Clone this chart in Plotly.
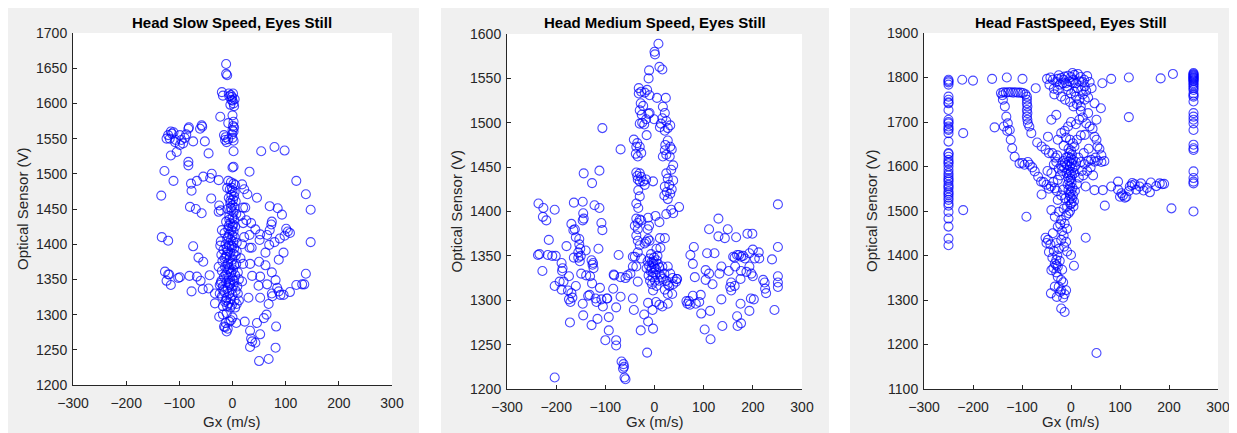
import plotly.graph_objects as go

# ---------------- data (Gx [m/s], Optical Sensor [V]) ----------------
slow_points = [
    (-12,1656),(-12,1642),(-10,1640),
    (-20,1616),(-18,1611),(-7,1614),(-3,1612),(-1,1609),(-2,1605),(0,1604),(2,1600),(-4,1598),(3,1596),(-6,1610),(1,1614),(4,1606),
    (-23,1581),(0,1583),(2,1574),(-8,1572),(1,1568),(0,1562),(2,1560),(-1,1556),(3,1566),
    (-16,1555),(-14,1548),(-11,1545),(-8,1549),(-13,1552),(2,1547),(0,1551),
    (2,1532),(2,1510),(0,1509),
    (-121,1555),(-118,1550),(-114,1557),(-111,1559),(-124,1550),(-107,1548),(-99,1555),(-96,1548),(-90,1551),(-87,1556),
    (-93,1543),(-99,1541),(-105,1531),(-116,1526),(-83,1564),(-82,1566),(-74,1546),(-61,1564),(-58,1569),(-57,1567),
    (-52,1546),(-45,1529),(-83,1517),(-83,1512),(-108,1545),(-116,1560),
    (-128,1504),(-111,1490),(-78,1486),(-77,1476),(-67,1490),(-55,1496),(-39,1500),(-42,1494),(-26,1491),(-134,1469),
    (-40,1465),(-80,1453),(-69,1450),(-58,1444),(-25,1455),(-26,1446),(-22,1448),
    (-133,1410),(-121,1405),(-74,1397),(-64,1381),(-55,1375),(-20,1420),(-22,1404),(-23,1398),
    (-127,1361),(-121,1357),(-124,1348),(-116,1342),(-102,1352),(-99,1353),(-81,1355),(-67,1354),(-43,1356),(-77,1333),
    (-56,1336),(-45,1337),(-33,1330),(-33,1316),(-119,1357),(-60,1348),(-26,1368),(-24,1342),(-24,1330),
    (54,1532),(79,1538),(98,1533),(32,1503),(120,1490),(28,1471),(46,1466),(138,1471),(70,1454),(85,1451),(93,1442),
    (147,1449),(24,1452),(26,1434),(35,1430),(74,1432),(73,1428),(43,1421),(52,1414),(32,1413),(70,1420),(101,1422),
    (104,1418),(108,1416),(98,1412),(89,1408),(65,1413),(79,1403),(147,1403),(51,1406),(69,1399),(32,1395),(36,1395),
    (62,1388),(96,1388),(87,1378),(50,1375),(33,1372),(62,1370),(74,1360),(37,1355),(52,1354),(81,1349),(138,1358),
    (120,1342),(131,1343),(135,1343),(49,1341),(65,1343),(84,1338),(87,1333),(90,1328),(96,1328),(108,1332),(74,1330),
    (75,1326),(30,1324),(52,1324),(68,1315),(64,1300),(59,1295),(23,1290),(46,1288),(82,1283),(33,1277),(52,1272),
    (35,1266),(37,1262),(43,1260),(33,1254),(81,1253),(50,1234),(68,1237),(18,1485),(22,1478),(20,1452),(15,1440),
    (20,1430),(22,1410),(18,1400),(15,1380),(20,1372),(12,1350),(18,1347),(10,1330),(12,1320),(8,1315),
    (-25,1297),(-11,1302),(-16,1283),(-11,1276),(-6,1290),(0,1296),(7,1288),(5,1310),(-14,1282),(-9,1280),(-3,1292),
    (-18,1300),(-13,1288),
    (-8,1490),(-3,1488),(2,1486),(5,1484),(-10,1480),(-5,1478),(0,1476),(4,1474),(-2,1470),(3,1468),(-7,1466),(1,1463),
    (6,1461),(-4,1458),(0,1455),(4,1452),(-9,1450),(-2,1448),(2,1445),(7,1443),(-6,1440),(0,1438),(3,1435),(-12,1432),
    (-4,1430),(1,1428),(5,1425),(-8,1422),(-2,1420),(2,1418),(-15,1416),(-6,1414),(0,1412),(4,1410),(-10,1408),(-3,1406),
    (1,1404),(8,1402),(-13,1400),(-6,1398),(-1,1396),(3,1394),(-17,1392),(-9,1390),(-4,1388),(2,1386),(6,1384),(-12,1382),
    (-5,1380),(0,1378),(-19,1376),(-8,1374),(-2,1372),(3,1370),(-14,1368),(-6,1366),(1,1364),(-20,1362),(-10,1360),
    (-3,1358),(5,1356),(-16,1354),(-7,1352),(0,1350),(-21,1348),(-12,1346),(-4,1344),(2,1342),(-18,1340),(-9,1338),
    (-1,1336),(6,1334),(-15,1332),(-6,1330),(0,1328),(-20,1326),(-11,1324),(-3,1322),(4,1320),(-14,1318),(-7,1316),
    (-1,1314),(-10,1312),(-4,1310),(-17,1335),(-13,1357),(-11,1385),(-8,1410),(-6,1435),(-4,1462),(-1,1480),(-9,1372),
    (-7,1345),(-12,1320),(-2,1398),(0,1425),(-3,1452),(-5,1342),(-8,1364),(-15,1380),(-11,1394),(-7,1426),(-2,1360),
    (3,1348),(-18,1312),(7,1372),(8,1390),(10,1360),(9,1340),(-22,1345),(-21,1385),
]

medium_points = [
    (8,1589),(0,1580),(1,1577),(-11,1559),(-12,1550),(10,1563),(16,1560),
    (-32,1539),(-32,1533),(-27,1535),(-15,1537),(-10,1531),(5,1528),(23,1528),(-20,1534),
    (-28,1522),(-23,1519),(-30,1514),(-26,1509),(-12,1510),(-10,1511),(-17,1504),(-25,1500),(-30,1499),(-21,1498),
    (17,1518),(21,1511),(16,1505),(24,1502),(27,1494),(32,1497),(21,1491),(11,1495),(-1,1504),(13,1499),
    (-42,1481),(-37,1473),(-34,1462),(-30,1473),(-27,1466),(-38,1465),(-16,1486),(-35,1477),
    (27,1480),(32,1473),(21,1469),(24,1464),(17,1462),(31,1462),(22,1475),(35,1470),
    (-37,1444),(-30,1443),(-34,1436),(-27,1439),(-30,1434),(-23,1434),(-17,1436),(-20,1430),(-3,1434),(-35,1440),
    (38,1452),(34,1447),(24,1443),(27,1437),(38,1435),(30,1430),(21,1428),(25,1422),(32,1420),(27,1414),(35,1425),(20,1418),
    (-33,1424),(-30,1417),(-37,1409),(-33,1404),
    (-37,1392),(-30,1391),(-34,1387),(-40,1384),(-34,1380),(-27,1390),(-13,1393),(-11,1384),(-14,1380),
    (2,1395),(10,1388),(24,1397),(34,1402),(50,1405),(38,1398),
    (-37,1373),(-34,1367),(-30,1362),(-20,1364),(-17,1366),(-13,1369),(-10,1367),(11,1370),(12,1359),(4,1358),
    (-34,1354),(-40,1349),(-27,1347),(-37,1338),(-34,1321),
    (-10,1347),(-6,1343),(-3,1341),(0,1337),(4,1345),(-11,1339),(-8,1333),(-3,1331),(3,1335),(7,1341),(-4,1326),
    (11,1329),(14,1326),(9,1322),(17,1324),(1,1322),(-5,1318),(4,1316),(-3,1311),(24,1322),(-14,1344),(-7,1352),
    (-1,1348),(6,1350),(-12,1328),(-16,1336),(2,1329),(-6,1336),(-2,1344),(10,1337),(-9,1322),(16,1338),(20,1330),
    (46,1324),(44,1321),(38,1318),(27,1318),(21,1312),(27,1307),(36,1307),(30,1316),
    (-13,1297),(-4,1289),(16,1293),(27,1296),(-21,1284),(-13,1276),(-3,1268),(-28,1266),(-15,1241),(3,1298),(10,1295),
    (-67,1231),(-63,1228),(-64,1223),(-61,1213),(-59,1211),(-62,1225),
    (-78,1255),(-78,1249),(-100,1255),(-93,1266),(-93,1281),(-105,1293),(-108,1301),(-97,1302),(-78,1292),(-69,1304),
    (-84,1313),(-82,1328),(-83,1329),(-69,1326),(-73,1351),(-59,1325),(-55,1328),(-49,1330),(-44,1338),(-44,1349),
    (-44,1302),(-42,1289),(-69,1470),(-106,1494),
    (-236,1409),(-237,1351),(-234,1352),(-228,1333),(-227,1394),(-226,1404),(-220,1390),(-217,1351),(-215,1368),
    (-208,1350),(-201,1350),(-203,1402),(-203,1213),(-203,1316),(-189,1342),(-187,1336),(-188,1333),(-193,1321),
    (-185,1321),(-189,1312),(-179,1361),(-176,1311),(-174,1301),(-171,1298),(-167,1303),(-169,1308),(-172,1275),
    (-174,1327),(-169,1386),(-164,1410),(-165,1379),(-162,1380),(-160,1371),(-164,1348),(-160,1316),(-155,1348),
    (-153,1369),(-153,1363),(-151,1358),(-155,1354),(-150,1350),(-152,1344),(-146,1411),(-145,1398),(-144,1392),
    (-146,1390),(-149,1330),(-144,1443),(-146,1296),(-145,1283),(-140,1356),(-139,1328),(-135,1305),(-132,1306),
    (-131,1327),(-128,1345),(-125,1342),(-127,1319),(-126,1340),(-124,1336),(-128,1272),(-127,1432),(-122,1407),
    (-120,1302),(-118,1298),(-116,1279),(-114,1358),(-112,1404),(-112,1446),(-111,1314),(-108,1387),(-106,1379),
    (-96,1302),
    (73,1351),(80,1360),(78,1341),(82,1326),(65,1299),(70,1299),(67,1296),(72,1295),(78,1305),(84,1296),(91,1298),
    (94,1306),(95,1285),(102,1267),(104,1334),(107,1353),(104,1323),(111,1330),(113,1288),(114,1256),(111,1380),
    (118,1318),(122,1353),(130,1392),(130,1372),(136,1338),(132,1330),(136,1301),(138,1271),(143,1370),(149,1380),
    (151,1333),(156,1320),(154,1315),(156,1311),(160,1349),(163,1316),(163,1348),(164,1338),(166,1371),(168,1282),
    (169,1271),(168,1351),(172,1351),(176,1349),(180,1350),(184,1347),(175,1324),(176,1333),(175,1296),(176,1274),
    (187,1332),(189,1375),(193,1353),(199,1375),(193,1338),(197,1330),(200,1327),(193,1288),(196,1302),(202,1301),
    (200,1357),(204,1347),(212,1354),(213,1347),(221,1323),(224,1320),(225,1313),(227,1308),(239,1346),(244,1289),
    (251,1408),(251,1360),(251,1327),(251,1320),(251,1315),
    (21,1370),(27,1338),(32,1330),(37,1325),(45,1324),
]

fast_left_column_y = [1795,1792,1789,1784,1757,1750,1744,1742,1727,1705,1700,1697,1690,1685,1682,1675,1656,1630,1628,
                      1622,1615,1610,1607,1600,1592,1585,1580,1574,1570,1566,1559,1555,1551,1544,1540,1536,1530,1525,
                      1517,1512,1498,1483,1465,1438,1423]
fast_right_column_y = [1810,1808,1806,1804,1802,1800,1799,1797,1795,1793,1791,1787,1784,1780,1776,1772,1764,1760,1757,
                       1746,1720,1712,1705,1697,1682,1649,1641,1637,1589,1574,1566,1562,1499]
fast_left_column_x = -250
fast_right_column_x = 250

fast_points = [
    (-222,1795),(-200,1793),(-161,1797),(-131,1800),(-99,1797),(-72,1776),(-49,1797),(-44,1784),(64,1787),(82,1797),
    (118,1800),(183,1798),(208,1808),(118,1711),(205,1506),(-220,1502),(-220,1675),(-91,1487),(52,1181),(30,1440),
    (-37,1795),(-27,1797),(-20,1799),(-13,1802),(-6,1804),(0,1801),(7,1806),(14,1808),(20,1801),(27,1795),(17,1791),
    (10,1787),(4,1788),(-3,1791),(-10,1787),(-17,1787),(-23,1784),(-30,1790),(28,1780),(21,1772),(14,1776),(7,1768),
    (0,1764),(10,1757),(17,1750),(24,1762),(31,1770),(35,1755),(28,1750),(-6,1772),(-20,1757),(-12,1750),(-27,1772),
    (-34,1762),(38,1790),(42,1776),(-15,1795),(5,1795),(-8,1780),(12,1740),(20,1735),(-2,1745),(24,1790),(33,1803),
    (-25,1805),(-42,1800),(3,1810),(-35,1775),
    (-143,1765),(-138,1767),(-133,1766),(-128,1767),(-123,1767),(-118,1766),(-113,1767),(-108,1766),(-103,1766),
    (-98,1765),(-93,1762),(-140,1760),
    (-90,1757),(-90,1750),(-90,1742),(-89,1735),(-90,1727),(-89,1720),(-90,1712),(-89,1705),(-88,1697),(-85,1690),
    (-81,1675),(-69,1654),(-60,1645),(-52,1638),(-45,1630),
    (-139,1750),(-135,1735),(-132,1712),(-129,1697),(-125,1682),(-123,1660),(-120,1641),(-115,1622),(-105,1607),
    (-95,1604),(-84,1604),(-74,1589),(-67,1577),(-61,1566),(-50,1559),(-41,1555),(-33,1551),(-156,1688),(-137,1690),
    (-130,1680),(-99,1608),(-88,1610),(-79,1598),(-56,1565),(-45,1550),(-60,1537),(-29,1545),
    (-47,1667),(-30,1716),(-40,1705),(-27,1660),(-20,1675),(-13,1680),(-6,1690),(4,1652),(7,1645),(-2,1660),(12,1660),
    (20,1670),(-10,1665),(0,1700),(10,1695),(17,1705),(24,1710),(31,1697),(28,1671),(48,1742),(61,1731),(52,1705),
    (48,1667),(52,1660),(54,1645),(38,1690),(44,1685),(35,1720),(20,1725),(-15,1647),(5,1735),
    (-5,1640),(0,1636),(-3,1630),(2,1627),(-6,1622),(0,1619),(4,1615),(-4,1611),(1,1607),(-8,1603),(-2,1600),(3,1596),
    (-5,1592),(0,1588),(-3,1584),(2,1580),(-6,1576),(0,1572),(-4,1568),(1,1564),(-7,1560),(-2,1556),(3,1552),(-5,1548),
    (0,1544),(-3,1540),(4,1536),(-1,1532),(2,1528),(-4,1524),(6,1522),(1,1518),(-10,1620),(-12,1608),(-14,1598),
    (-18,1590),(-16,1612),(-20,1602),(-9,1585),(8,1600),(10,1610),(7,1585),(-25,1595),(-30,1610),(-35,1605),(-32,1620),
    (-28,1625),(-38,1630),(-22,1580),(-27,1570),(-40,1585),(-48,1590),(-36,1565),(-16,1548),(-20,1535),(-12,1528),
    (8,1545),(12,1560),(16,1575),(22,1590),(-1,1515),(5,1510),(-8,1510),
    (20,1610),(28,1605),(35,1612),(41,1615),(48,1611),(55,1613),(62,1610),(68,1612),(40,1598),(33,1590),(25,1580),
    (45,1580),(48,1547),(65,1547),(69,1512),(30,1555),(15,1620),(26,1630),(36,1640),(58,1640),(62,1625),(50,1620),
    (82,1555),(96,1566),(96,1548),(103,1540),(106,1535),(113,1532),(120,1555),(124,1558),(130,1560),(133,1548),
    (143,1562),(148,1546),(155,1552),(161,1542),(163,1564),(174,1556),(181,1562),(186,1560),(190,1561),(100,1532),
    (110,1530),(118,1545),(125,1563),(140,1555),
    (-27,1525),(-40,1502),(-33,1487),(-20,1480),(-13,1472),(-27,1465),(-37,1450),(-47,1435),(-52,1440),(-50,1428),
    (-42,1425),(-30,1428),(-20,1435),(-25,1415),(-35,1410),(-45,1408),(-38,1395),(-30,1390),(-28,1400),(-33,1382),
    (-27,1375),(-40,1367),(-30,1362),(-27,1352),(-20,1345),(-33,1330),(-20,1322),(-10,1322),(-41,1315),(-29,1307),
    (-13,1313),(-16,1305),(-20,1281),(-13,1273),(0,1401),(6,1377),(-10,1431),(-15,1445),(-8,1460),(-18,1455),
    (-22,1470),(-10,1490),(-5,1495),(-2,1500),(-25,1498),(-15,1505),(-30,1378),(-36,1372),(-23,1388),(-18,1368),
    (-16,1340),(-25,1330),(-22,1318),(-8,1409),(-14,1420),
]

titles = ["Head Slow Speed, Eyes Still", "Head Medium Speed, Eyes Still", "Head FastSpeed, Eyes Still"]
x_label = "Gx (m/s)"
y_label = "Optical Sensor (V)"
x_ticks = [-300, -200, -100, 0, 100, 200, 300]
y_ranges = [(1200, 1700), (1200, 1600), (1100, 1900)]
y_steps = [50, 50, 100]

# assemble series
gx_slow = [p[0] for p in slow_points]
opt_slow = [p[1] for p in slow_points]
gx_medium = [p[0] for p in medium_points]
opt_medium = [p[1] for p in medium_points]
gx_fast = ([fast_left_column_x] * len(fast_left_column_y) + [fast_right_column_x] * len(fast_right_column_y)
           + [p[0] for p in fast_points])
opt_fast = fast_left_column_y + fast_right_column_y + [p[1] for p in fast_points]

# ---------------- layout geometry (screen pixels) ----------------
OFF = 8                      # page body margin in which the figure sits
W, H = 1237 - OFF, 433 - OFF
plot_px = [(73, 392, 33, 385), (507, 802, 34, 389), (924, 1218, 33, 389)]   # x0,x1,ytop,ybottom
panel_px = [(6, 419, 6, 433), (441, 829, 7, 433), (850, 1237, 6, 433)]
ylabel_x = [23, 456, 871]

def fx(px):
    return (px - OFF) / W

def fy(py):
    return 1 - (py - OFF) / H

TXT = "#262626"
FONT = "Liberation Sans, Arial, Helvetica, sans-serif"

fig = go.Figure()
series = [(gx_slow, opt_slow), (gx_medium, opt_medium), (gx_fast, opt_fast)]
for i, (xs, ys) in enumerate(series):
    sfx = "" if i == 0 else str(i + 1)
    fig.add_trace(go.Scatter(
        x=xs, y=ys, mode="markers", xaxis="x" + sfx, yaxis="y" + sfx, cliponaxis=False,
        marker=dict(symbol="circle-open", size=9, color="rgba(0,0,255,0.72)", line=dict(width=1.1)),
        showlegend=False, hoverinfo="x+y"))

shapes = []
annotations = []
for i in range(3):
    x0, x1, yt, yb = plot_px[i]
    px0, px1, pyt, pyb = panel_px[i]
    shapes.append(dict(type="rect", xref="paper", yref="paper", x0=fx(max(px0, OFF)), x1=fx(px1),
                       y0=fy(pyb), y1=fy(max(pyt, OFF)),
                       fillcolor="#f0f0f0", line=dict(width=0), layer="below"))
    shapes.append(dict(type="rect", xref="paper", yref="paper", x0=fx(x0), x1=fx(x1), y0=fy(yb), y1=fy(yt),
                       fillcolor="white", line=dict(width=0), layer="below"))
    cx = fx((x0 + x1) / 2)
    annotations.append(dict(text="<b>" + titles[i] + "</b>", x=cx, y=fy(22), xref="paper", yref="paper",
                            showarrow=False, xanchor="center", yanchor="middle",
                            font=dict(family=FONT, size=15, color="black")))
    annotations.append(dict(text=x_label, x=cx, y=fy(421), xref="paper", yref="paper",
                            showarrow=False, xanchor="center", yanchor="middle",
                            font=dict(family=FONT, size=15, color=TXT)))
    annotations.append(dict(text=y_label, x=fx(ylabel_x[i]), y=fy((yt + yb) / 2), xref="paper", yref="paper",
                            showarrow=False, xanchor="center", yanchor="middle", textangle=-90,
                            font=dict(family=FONT, size=15, color=TXT)))

layout = dict(width=W, height=H, margin=dict(l=0, r=0, t=0, b=0, autoexpand=False),
              paper_bgcolor="white", plot_bgcolor="rgba(0,0,0,0)",
              shapes=shapes, annotations=annotations, showlegend=False,
              font=dict(family=FONT, color=TXT))
for i in range(3):
    sfx = "" if i == 0 else str(i + 1)
    x0, x1, yt, yb = plot_px[i]
    common = dict(showline=True, linecolor=TXT, linewidth=1, ticks="inside", ticklen=4, tickcolor=TXT,
                  tickwidth=1, showgrid=False, zeroline=False, mirror=False, automargin=False,
                  tickfont=dict(family=FONT, size=14, color=TXT))
    layout["xaxis" + sfx] = dict(common, domain=[fx(x0), fx(x1)], range=[-300, 300], tickvals=x_ticks,
                                 anchor="y" + sfx, ticklabelstandoff=5)
    lo, hi = y_ranges[i]
    layout["yaxis" + sfx] = dict(common, domain=[fy(yb), fy(yt)], range=[lo, hi], tick0=lo, dtick=y_steps[i],
                                 anchor="x" + sfx, ticklabelstandoff=2)
fig.update_layout(**layout)
fig.write_html("out.html")
